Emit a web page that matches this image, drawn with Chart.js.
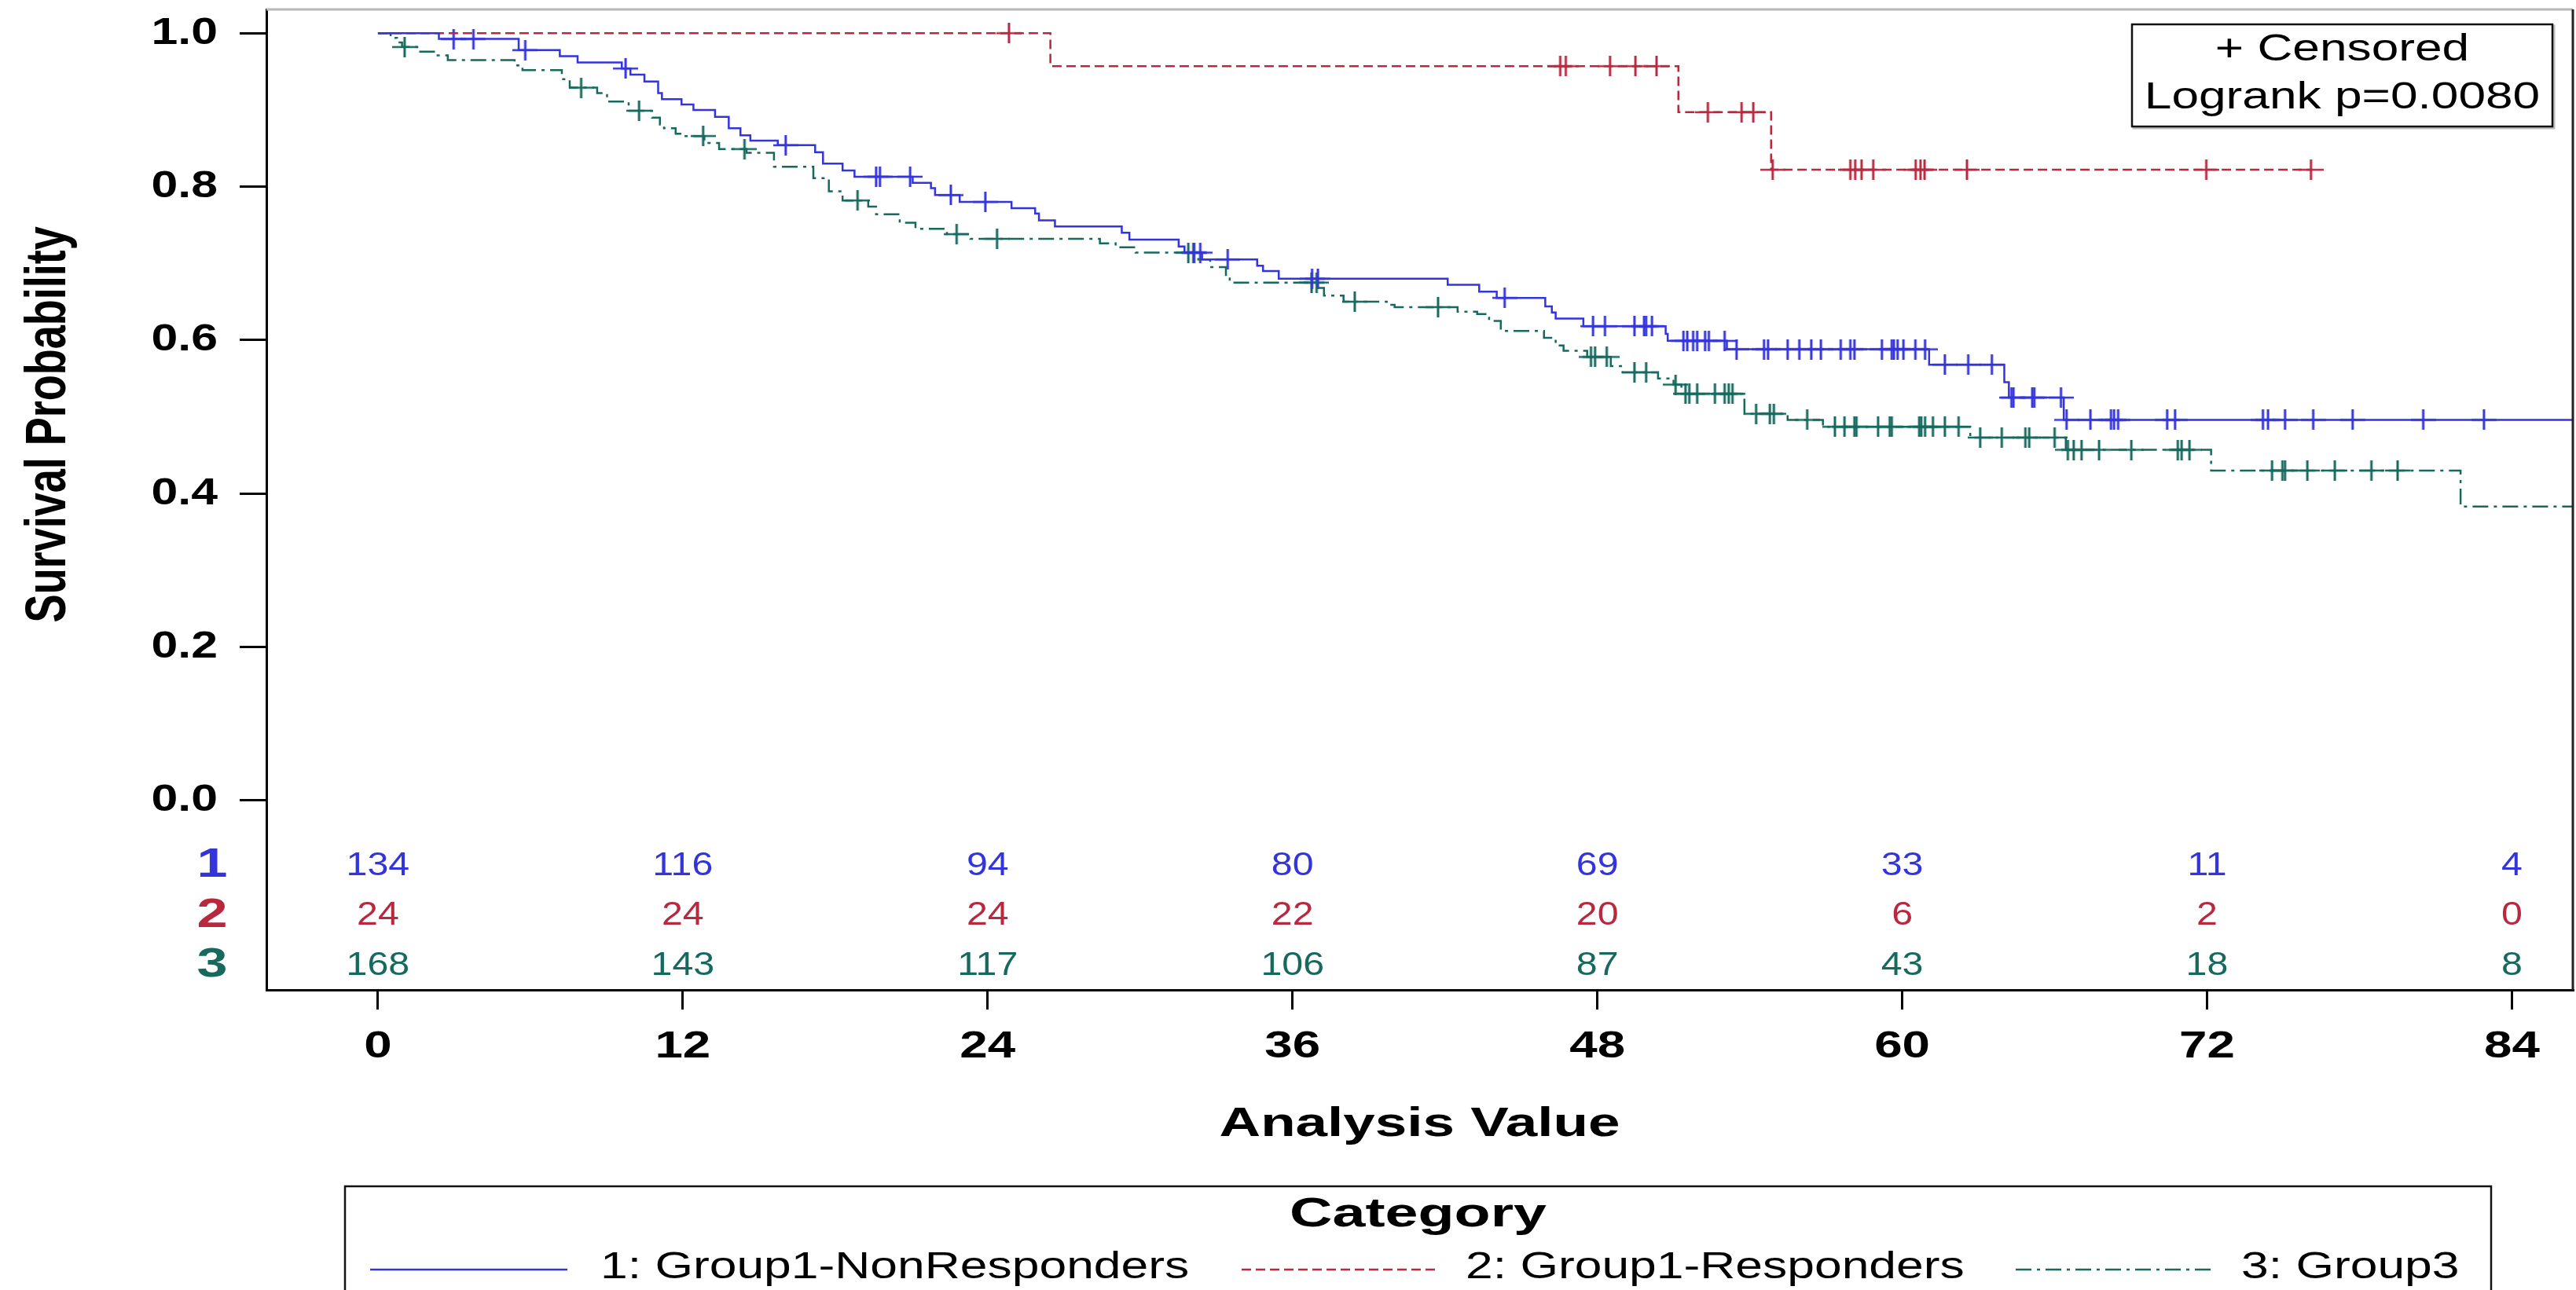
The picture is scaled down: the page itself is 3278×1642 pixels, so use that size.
<!DOCTYPE html>
<html>
<head>
<meta charset="utf-8">
<title>Survival Probability</title>
<script src="https://cdn.jsdelivr.net/npm/chart.js@4.4.1/dist/chart.umd.min.js"></script>
<style>
  html, body { margin: 0; padding: 0; background: #fff; }
  canvas { display: block; }
</style>
</head>
<body>
<canvas id="chart" width="3278" height="1642"></canvas>
<script>
// axis ticks
const xTicks = [0, 12, 24, 36, 48, 60, 72, 84];
const yTicks = [0, 0.2, 0.4, 0.6, 0.8, 1.0];

const groupNames = ['1: Group1-NonResponders', '2: Group1-Responders', '3: Group3'];
const groupCodes = ['1', '2', '3'];

// number at risk at each x tick
const riskG1 = [134, 116, 94, 80, 69, 33, 11, 4];
const riskG2 = [24, 24, 24, 22, 20, 6, 2, 0];
const riskG3 = [168, 143, 117, 106, 87, 43, 18, 8];

// group 1: step times, survival after each step, censored times
const g1Times = [2.4, 5.54, 7.16, 7.86, 9.6, 9.94, 10.49, 11.03, 11.18, 11.95, 12.42, 13.27, 13.81, 14.27, 14.66,
  15.74, 17.21, 17.52, 18.29, 18.76, 21.05, 21.77, 21.93, 22.9, 24.94, 25.87, 26.02, 26.65, 29.28, 29.58,
  31.52, 31.75, 32.44, 34.61, 34.84, 35.46, 42.11, 43.35, 44.04, 45.95, 46.21, 46.36, 47.45, 50.69, 50.77,
  53.1, 61.06, 64.02, 64.2, 66.36];
const g1Surv = [0.9925, 0.978, 0.970, 0.962, 0.954, 0.946, 0.937, 0.922, 0.914, 0.907, 0.900, 0.891, 0.876, 0.867, 0.860,
  0.854, 0.845, 0.830, 0.821, 0.813, 0.805, 0.798, 0.789, 0.780, 0.772, 0.765, 0.756, 0.748, 0.740, 0.731,
  0.722, 0.714, 0.705, 0.697, 0.690, 0.680, 0.672, 0.663, 0.655, 0.644, 0.636, 0.628, 0.618, 0.608, 0.599,
  0.588, 0.568, 0.545, 0.525, 0.496];
const g1Censor = [2.98, 3.76, 5.8, 9.75, 16.05, 19.61, 19.76, 20.95, 22.55, 23.91, 32.13, 32.37, 33.45, 36.77, 37.0,
  44.35, 47.83, 48.3, 49.46, 49.84, 49.92, 50.15, 51.39, 51.54, 51.77, 51.93, 52.24, 52.39, 53.01, 53.48,
  54.56, 54.72, 55.49, 55.95, 56.42, 56.8, 57.58, 57.96, 58.12, 59.2, 59.59, 59.67, 59.82, 60.05, 60.52,
  60.9, 61.68, 62.6, 63.53, 64.3, 64.38, 65.12, 65.2, 66.25, 66.47, 67.41, 68.22, 68.34, 68.5, 70.43,
  70.74, 74.2, 74.4, 75.07, 76.18, 77.73, 80.51, 82.9];
const g1End = 90;

// group 2
const g2Times = [26.47, 51.19, 54.84];
const g2Surv = [0.957, 0.897, 0.822];
const g2Censor = [24.84, 46.54, 46.76, 48.5, 49.5, 50.33, 52.35, 53.68, 54.14, 54.9, 57.96, 58.15, 58.4, 58.86,
  60.53, 60.72, 60.88, 62.55, 71.97, 76.09];
const g2End = 76.09;

// group 3
const g3Times = [0.5, 0.75, 0.95, 1.55, 2.3, 2.75, 5.38, 5.69, 7.24, 7.55, 8.63, 9.02, 9.87, 10.79, 11.1,
  11.26, 11.72, 12.0, 12.85, 13.43, 14.51, 15.59, 17.14, 17.75, 18.29, 19.3, 19.61, 20.54, 21.16, 22.4,
  23.32, 28.42, 29.04, 29.82, 32.29, 32.76, 33.38, 33.53, 37.0, 37.24, 38.01, 39.71, 40.02, 42.5, 43.27,
  43.74, 44.2, 45.9, 46.36, 46.67, 47.6, 48.53, 48.99, 50.39, 51.0, 51.31, 53.79, 55.49, 56.88, 62.68,
  66.44, 72.16, 81.98];
const g3Surv = [0.994, 0.988, 0.982, 0.976, 0.971, 0.965, 0.958, 0.952, 0.940, 0.929, 0.922, 0.911, 0.899, 0.890, 0.881,
  0.876, 0.869, 0.866, 0.857, 0.849, 0.844, 0.826, 0.811, 0.794, 0.782, 0.774, 0.764, 0.753, 0.745, 0.738,
  0.732, 0.726, 0.721, 0.714, 0.705, 0.695, 0.685, 0.675, 0.668, 0.658, 0.650, 0.646, 0.643, 0.637, 0.634,
  0.625, 0.612, 0.603, 0.593, 0.586, 0.578, 0.566, 0.558, 0.550, 0.542, 0.530, 0.504, 0.496, 0.487, 0.473,
  0.457, 0.430, 0.383];
const g3Censor = [1.05, 8.0, 10.28, 12.8, 14.43, 18.88, 22.78, 24.37, 31.9, 32.1, 36.75, 36.95, 38.45, 41.73, 47.75,
  47.91, 48.37, 49.46, 49.92, 51.08, 51.47, 51.62, 51.93, 52.63, 53.01, 53.17, 53.32, 54.25, 54.79, 54.95,
  56.26, 57.35, 57.73, 58.12, 58.2, 59.05, 59.51, 59.59, 60.67, 60.75, 60.9, 61.21, 61.68, 62.22, 63.07,
  63.92, 64.85, 65.0, 66.0, 66.52, 66.75, 67.06, 67.75, 69.02, 70.85, 71.0, 71.31, 74.56, 74.97, 75.07,
  75.95, 77.03, 78.47, 79.5];
const g3End = 90;

const colors = ['#3434dc', '#b8283f', '#17695e'];
const dashes = [[], [12, 6], [20, 7, 4, 7]];

const FONT = "'Liberation Sans', Arial, Helvetica, sans-serif";

function stepPoints(times, surv, end) {
  const pts = [{ x: 0, y: 1 }];
  times.forEach((t, i) => pts.push({ x: t, y: surv[i] }));
  pts.push({ x: end, y: surv[surv.length - 1] });
  return pts;
}

function survAt(times, surv, t) {
  let s = 1;
  times.forEach((ti, i) => { if (ti <= t) s = surv[i]; });
  return s;
}

function censorPoints(censor, times, surv) {
  return censor.map(t => ({ x: t, y: survAt(times, surv, t) }));
}

// "+" marker, a little wider than tall like the source
function crossMark(color) {
  const c = document.createElement('canvas');
  c.width = 32;
  c.height = 26;
  const g = c.getContext('2d');
  g.strokeStyle = color;
  g.lineWidth = 2.5;
  g.beginPath();
  g.moveTo(0, 13); g.lineTo(32, 13);
  g.stroke();
  g.lineWidth = 3;
  g.beginPath();
  g.moveTo(16, 0); g.lineTo(16, 26);
  g.stroke();
  return c;
}

// the source picture is stretched sideways, so text gets a horizontal scale
function drawText(ctx, text, x, y, o) {
  ctx.save();
  ctx.translate(x, y);
  ctx.scale(o.stretch || 1.3, 1);
  if (o.angle) ctx.rotate(o.angle);
  ctx.font = (o.weight || 'normal') + ' ' + o.size + 'px ' + FONT;
  ctx.fillStyle = o.color || '#000';
  ctx.textAlign = o.align || 'center';
  ctx.textBaseline = 'middle';
  ctx.fillText(text, 0, 0);
  ctx.restore();
}

const kmDecor = {
  id: 'kmDecor',
  afterDraw(chart) {
    const { ctx, chartArea: a } = chart;
    const x = chart.scales.x;
    const y = chart.scales.y;

    // top and right frame
    ctx.save();
    ctx.lineWidth = 3;
    ctx.strokeStyle = '#b8b8b8';
    ctx.beginPath(); ctx.moveTo(a.left, a.top); ctx.lineTo(a.right, a.top); ctx.stroke();
    ctx.strokeStyle = '#222';
    ctx.beginPath(); ctx.moveTo(a.right, a.top); ctx.lineTo(a.right, a.bottom); ctx.stroke();
    ctx.restore();

    // tick labels
    yTicks.forEach(v => drawText(ctx, v.toFixed(1), a.left - 62, y.getPixelForValue(v),
      { size: 49, weight: 'bold', align: 'right', stretch: 1.24 }));
    xTicks.forEach(v => drawText(ctx, String(v), x.getPixelForValue(v), a.bottom + 72,
      { size: 49, weight: 'bold', stretch: 1.3 }));

    // axis titles
    drawText(ctx, 'Analysis Value', (a.left + a.right) / 2, a.bottom + 172, { size: 52, weight: 'bold', stretch: 1.4 });
    drawText(ctx, 'Survival Probability', 63, y.getPixelForValue(0.49),
      { size: 54, weight: 'bold', angle: -Math.PI / 2, stretch: 1.35 });

    // numbers at risk
    const risk = [riskG1, riskG2, riskG3];
    risk.forEach((row, r) => {
      const py = a.bottom - 158 + r * 63.5;
      drawText(ctx, groupCodes[r], 270, py, { size: 52, weight: 'bold', color: colors[r], stretch: 1.35 });
      row.forEach((n, i) => drawText(ctx, String(n), x.getPixelForValue(xTicks[i]), py,
        { size: 42, color: colors[r], stretch: 1.15 }));
    });

    // censored / logrank box
    const bx = a.right - 561, by = a.top + 19, bw = 535, bh = 130;
    ctx.save();
    ctx.strokeStyle = '#bdbdbd';
    ctx.lineWidth = 3;
    ctx.strokeRect(bx + 2, by + 2, bw, bh);
    ctx.strokeStyle = '#111';
    ctx.lineWidth = 2.5;
    ctx.fillStyle = '#fff';
    ctx.fillRect(bx, by, bw, bh);
    ctx.strokeRect(bx, by, bw, bh);
    ctx.restore();
    drawText(ctx, '+ Censored', bx + bw / 2, by + 32, { size: 49, stretch: 1.27 });
    drawText(ctx, 'Logrank p=0.0080', bx + bw / 2, by + 93, { size: 49, stretch: 1.27 });

    // category legend
    const lx = 439, lr = 3170, ly = a.bottom + 250;
    ctx.save();
    ctx.strokeStyle = '#111';
    ctx.lineWidth = 2.5;
    ctx.strokeRect(lx, ly, lr - lx, 200);
    ctx.restore();
    drawText(ctx, 'Category', (lx + lr) / 2, ly + 37, { size: 52, weight: 'bold', stretch: 1.45 });
    const sampleX = [[471, 722], [1580, 1828], [2565, 2815]];
    const textX = [764, 1865, 2852];
    const rowY = ly + 104;
    chart.data.datasets.slice(0, 3).forEach((ds, i) => {
      ctx.save();
      ctx.strokeStyle = ds.borderColor;
      ctx.lineWidth = 2.5;
      ctx.setLineDash(ds.borderDash || []);
      ctx.beginPath();
      ctx.moveTo(sampleX[i][0], rowY + 2);
      ctx.lineTo(sampleX[i][1], rowY + 2);
      ctx.stroke();
      ctx.restore();
      drawText(ctx, groupNames[i], textX[i], rowY, { size: 48, align: 'left', stretch: 1.3 });
    });
  }
};

const curves = [
  stepPoints(g1Times, g1Surv, g1End),
  stepPoints(g2Times, g2Surv, g2End),
  stepPoints(g3Times, g3Surv, g3End)
];
const censors = [
  censorPoints(g1Censor, g1Times, g1Surv),
  censorPoints(g2Censor, g2Times, g2Surv),
  censorPoints(g3Censor, g3Times, g3Surv)
];

const datasets = [];
curves.forEach((pts, i) => {
  datasets.push({
    type: 'line',
    label: groupNames[i],
    data: pts,
    stepped: 'before',
    borderColor: colors[i],
    borderWidth: 2.5,
    borderDash: dashes[i],
    pointRadius: 0,
    fill: false
  });
});
censors.forEach((pts, i) => {
  datasets.push({
    type: 'scatter',
    label: 'Censored ' + groupCodes[i],
    data: pts,
    pointStyle: crossMark(colors[i]),
    pointRadius: 1,      // image marker keeps its own size; small radius keeps layout padding tight
    pointBorderWidth: 0,
    showLine: false
  });
});

new Chart(document.getElementById('chart'), {
  type: 'line',
  data: { datasets },
  options: {
    responsive: false,
    animation: false,
    layout: { padding: { left: 305, top: 12, right: 3, bottom: 357 } },
    plugins: { legend: { display: false }, tooltip: { enabled: false } },
    scales: {
      x: {
        type: 'linear',
        min: -4.39,
        max: 86.4,
        afterBuildTicks: axis => { axis.ticks = xTicks.map(v => ({ value: v })); },
        ticks: { display: false },
        grid: { display: true, drawOnChartArea: false, drawTicks: true, tickLength: 25, color: '#000', lineWidth: 3 },
        border: { display: true, color: '#000', width: 3 }
      },
      y: {
        type: 'linear',
        min: -0.247,
        max: 1.031,
        afterBuildTicks: axis => { axis.ticks = yTicks.map(v => ({ value: v })); },
        ticks: { display: false },
        grid: { display: true, drawOnChartArea: false, drawTicks: true, tickLength: 34, color: '#000', lineWidth: 3 },
        border: { display: true, color: '#000', width: 3 }
      }
    }
  },
  plugins: [kmDecor]
});
</script>
</body>
</html>
